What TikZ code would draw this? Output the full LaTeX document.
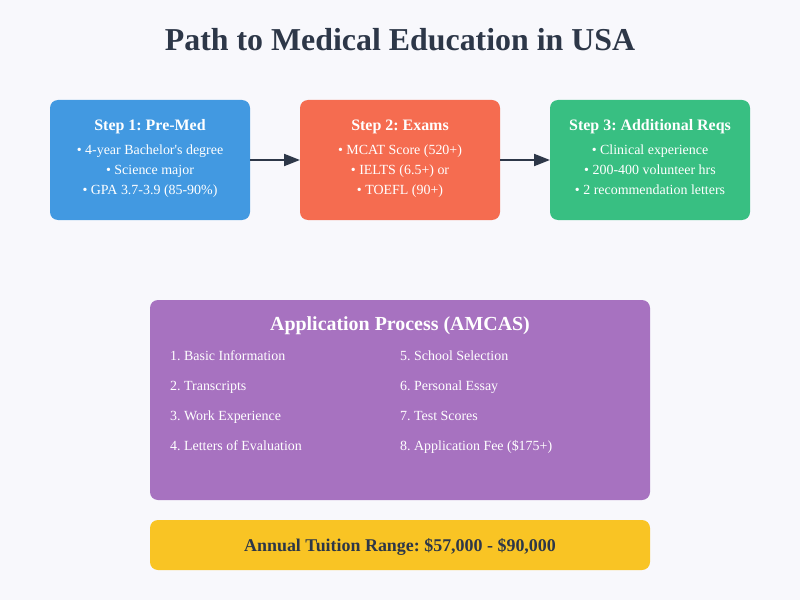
\documentclass[tikz,border=0pt]{standalone}
\usepackage{fontspec}
\setmainfont{Liberation Serif}
\usetikzlibrary{arrows.meta}
\frenchspacing
\definecolor{bgc}{HTML}{F8F8FC}
\definecolor{dark}{HTML}{2D3748}
\definecolor{cblue}{HTML}{4299E1}
\definecolor{corange}{HTML}{F56C50}
\definecolor{cgreen}{HTML}{38BF82}
\definecolor{cpurple}{HTML}{A772C0}
\definecolor{cyellow}{HTML}{F9C424}
\tikzset{
  card/.style={rounded corners=8bp},
  ttl/.style={anchor=base, text=white, font=\bfseries\fontsize{16}{19}\selectfont, inner sep=0pt},
  bul/.style={anchor=base, text=white, font=\fontsize{14}{17}\selectfont, inner sep=0pt},
  itm/.style={anchor=base west, text=white, font=\fontsize{14}{17}\selectfont, inner sep=0pt},
  conn/.style={draw=dark, line width=2bp, -{Triangle[length=16bp,width=12bp]}},
}
\begin{document}
\begin{tikzpicture}[x=1bp,y=-1bp]
\fill[bgc] (0,0) rectangle (800,600);
\useasboundingbox (0,0) rectangle (800,600);
\node[anchor=base, text=dark, font=\bfseries\fontsize{32}{38}\selectfont, inner sep=0pt] (title) at (400,51) {Path to Medical Education in USA};
% step boxes
\fill[cblue, card] (50,100) rectangle (250,220);
\fill[corange, card] (300,100) rectangle (500,220);
\fill[cgreen, card] (550,100) rectangle (750,220);
\coordinate (s1r) at (250,160);
\coordinate (s2l) at (300,160);
\coordinate (s2r) at (500,160);
\coordinate (s3l) at (550,160);
\node[ttl] (t1) at (150,131) {Step 1: Pre-Med};
\node[bul] (b11) at (150,155) {• 4-year Bachelor\textquotesingle s degree};
\node[bul] (b12) at (150,175) {• Science major};
\node[bul] (b13) at (150,195) {• GPA 3.7-3.9 (85-90\%)};
\node[ttl] (t2) at (400,131) {Step 2: Exams};
\node[bul] (b21) at (400,155) {• MCAT Score (520+)};
\node[bul] (b22) at (400,175) {• IELTS (6.5+) or};
\node[bul] (b23) at (400,195) {• TOEFL (90+)};
\node[ttl] (t3) at (650,131) {Step 3: Additional Reqs};
\node[bul] (b31) at (650,155) {• Clinical experience};
\node[bul] (b32) at (650,175) {• 200-400 volunteer hrs};
\node[bul] (b33) at (650,195) {• 2 recommendation letters};
\draw[conn] (s1r) -- (s2l);
\draw[conn] (s2r) -- (s3l);
% application
\fill[cpurple, card] (150,300) rectangle (650,500);
\node[anchor=base, text=white, font=\bfseries\fontsize{20}{24}\selectfont, inner sep=0pt] (at) at (400,330) {Application Process (AMCAS)};
\node[itm] (a1) at (170,360) {1. Basic Information};
\node[itm] (a2) at (170,390) {2. Transcripts};
\node[itm] (a3) at (170,420) {3. Work Experience};
\node[itm] (a4) at (170,450) {4. Letters of Evaluation};
\node[itm] (a5) at (400,360) {5. School Selection};
\node[itm] (a6) at (400,390) {6. Personal Essay};
\node[itm] (a7) at (400,420) {7. Test Scores};
\node[itm] (a8) at (400,450) {8. Application Fee (\$175+)};
% tuition
\fill[cyellow, card] (150,520) rectangle (650,570);
\node[anchor=base, text=dark, font=\bfseries\fontsize{18}{22}\selectfont, inner sep=0pt] (tu) at (400,551) {Annual Tuition Range: \$57,000 - \$90,000};
\end{tikzpicture}
\end{document}
